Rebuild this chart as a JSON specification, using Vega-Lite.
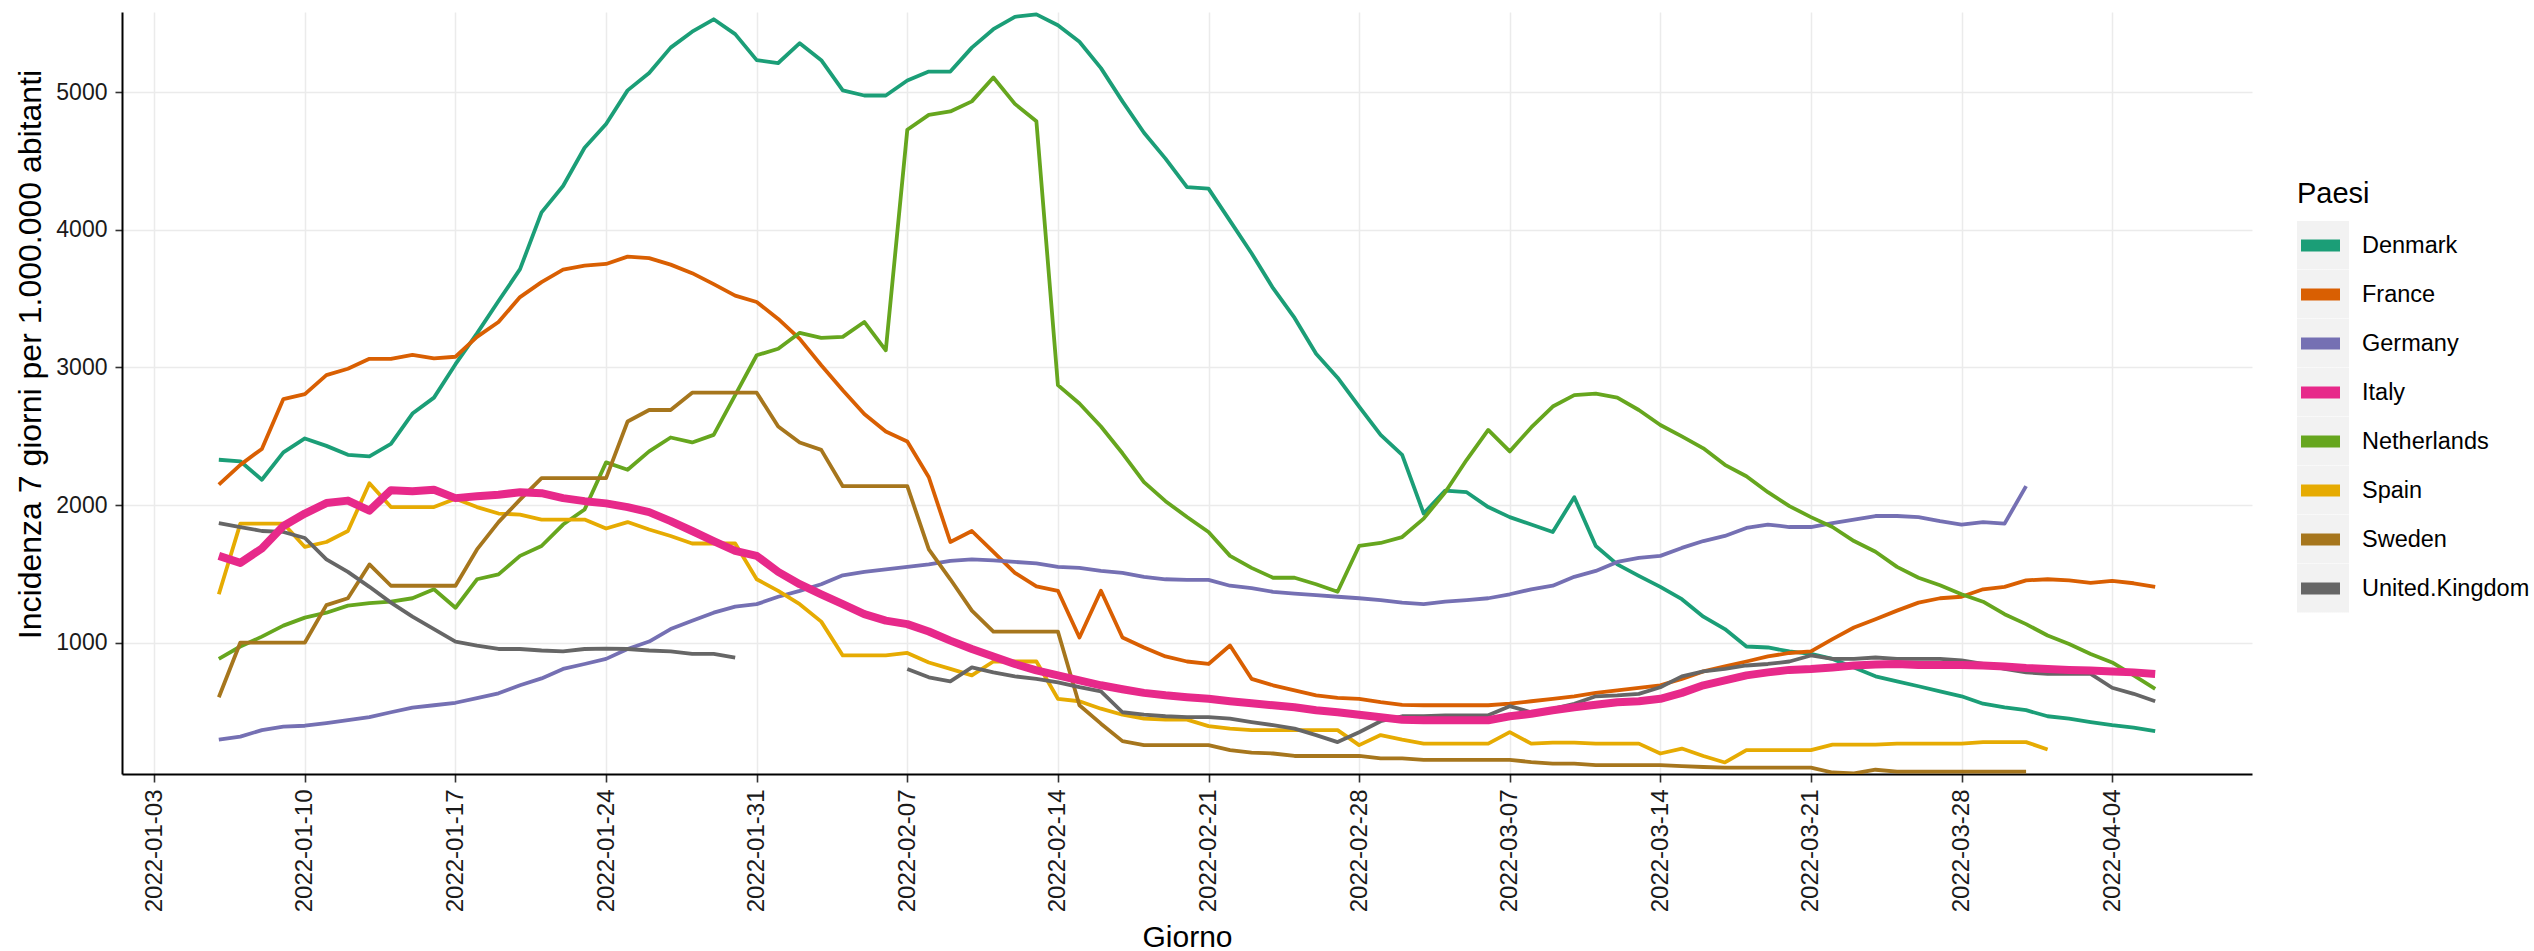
{
"$schema": "https://vega.github.io/schema/vega-lite/v6.json",
"width": 2130, "height": 762,
"autosize": {"type": "none"},
"padding": {"left": 122, "top": 12, "right": 282, "bottom": 177},
"background": "white",
"config": {"view": {"stroke": null}, "font": "Liberation Sans"},
"data": {"values": [
{"d":"2022-01-06","c":"Denmark","v":2329},{"d":"2022-01-07","c":"Denmark","v":2318},{"d":"2022-01-08","c":"Denmark","v":2184},{"d":"2022-01-09","c":"Denmark","v":2383},{"d":"2022-01-10","c":"Denmark","v":2484},{"d":"2022-01-11","c":"Denmark","v":2430},{"d":"2022-01-12","c":"Denmark","v":2365},{"d":"2022-01-13","c":"Denmark","v":2354},{"d":"2022-01-14","c":"Denmark","v":2444},{"d":"2022-01-15","c":"Denmark","v":2665},{"d":"2022-01-16","c":"Denmark","v":2781},{"d":"2022-01-17","c":"Denmark","v":3024},{"d":"2022-01-18","c":"Denmark","v":3248},{"d":"2022-01-19","c":"Denmark","v":3483},{"d":"2022-01-20","c":"Denmark","v":3715},{"d":"2022-01-21","c":"Denmark","v":4128},{"d":"2022-01-22","c":"Denmark","v":4320},{"d":"2022-01-23","c":"Denmark","v":4598},{"d":"2022-01-24","c":"Denmark","v":4770},{"d":"2022-01-25","c":"Denmark","v":5015},{"d":"2022-01-26","c":"Denmark","v":5141},{"d":"2022-01-27","c":"Denmark","v":5326},{"d":"2022-01-28","c":"Denmark","v":5442},{"d":"2022-01-29","c":"Denmark","v":5532},{"d":"2022-01-30","c":"Denmark","v":5424},{"d":"2022-01-31","c":"Denmark","v":5235},
{"d":"2022-02-01","c":"Denmark","v":5214},{"d":"2022-02-02","c":"Denmark","v":5358},{"d":"2022-02-03","c":"Denmark","v":5235},{"d":"2022-02-04","c":"Denmark","v":5015},{"d":"2022-02-05","c":"Denmark","v":4978},{"d":"2022-02-06","c":"Denmark","v":4978},{"d":"2022-02-07","c":"Denmark","v":5087},{"d":"2022-02-08","c":"Denmark","v":5152},{"d":"2022-02-09","c":"Denmark","v":5152},{"d":"2022-02-10","c":"Denmark","v":5326},{"d":"2022-02-11","c":"Denmark","v":5460},{"d":"2022-02-12","c":"Denmark","v":5550},{"d":"2022-02-13","c":"Denmark","v":5568},{"d":"2022-02-14","c":"Denmark","v":5489},{"d":"2022-02-15","c":"Denmark","v":5369},{"d":"2022-02-16","c":"Denmark","v":5177},{"d":"2022-02-17","c":"Denmark","v":4935},{"d":"2022-02-18","c":"Denmark","v":4707},{"d":"2022-02-19","c":"Denmark","v":4519},{"d":"2022-02-20","c":"Denmark","v":4312},{"d":"2022-02-21","c":"Denmark","v":4301},{"d":"2022-02-22","c":"Denmark","v":4066},{"d":"2022-02-23","c":"Denmark","v":3831},{"d":"2022-02-24","c":"Denmark","v":3577},{"d":"2022-02-25","c":"Denmark","v":3360},{"d":"2022-02-26","c":"Denmark","v":3100},{"d":"2022-02-27","c":"Denmark","v":2926},{"d":"2022-02-28","c":"Denmark","v":2716},
{"d":"2022-03-01","c":"Denmark","v":2510},{"d":"2022-03-02","c":"Denmark","v":2365},{"d":"2022-03-03","c":"Denmark","v":1938},{"d":"2022-03-04","c":"Denmark","v":2105},{"d":"2022-03-05","c":"Denmark","v":2093},{"d":"2022-03-06","c":"Denmark","v":1985},{"d":"2022-03-07","c":"Denmark","v":1912},{"d":"2022-03-08","c":"Denmark","v":1858},{"d":"2022-03-09","c":"Denmark","v":1804},{"d":"2022-03-10","c":"Denmark","v":2057},{"d":"2022-03-11","c":"Denmark","v":1702},{"d":"2022-03-12","c":"Denmark","v":1568},{"d":"2022-03-13","c":"Denmark","v":1485},{"d":"2022-03-14","c":"Denmark","v":1405},{"d":"2022-03-15","c":"Denmark","v":1315},{"d":"2022-03-16","c":"Denmark","v":1188},{"d":"2022-03-17","c":"Denmark","v":1098},{"d":"2022-03-18","c":"Denmark","v":971},{"d":"2022-03-19","c":"Denmark","v":964},{"d":"2022-03-20","c":"Denmark","v":935},{"d":"2022-03-21","c":"Denmark","v":917},{"d":"2022-03-22","c":"Denmark","v":881},{"d":"2022-03-23","c":"Denmark","v":819},{"d":"2022-03-24","c":"Denmark","v":754},{"d":"2022-03-25","c":"Denmark","v":718},{"d":"2022-03-26","c":"Denmark","v":682},{"d":"2022-03-27","c":"Denmark","v":645},{"d":"2022-03-28","c":"Denmark","v":609},{"d":"2022-03-29","c":"Denmark","v":555},{"d":"2022-03-30","c":"Denmark","v":529},{"d":"2022-03-31","c":"Denmark","v":508},
{"d":"2022-04-01","c":"Denmark","v":464},{"d":"2022-04-02","c":"Denmark","v":446},{"d":"2022-04-03","c":"Denmark","v":421},{"d":"2022-04-04","c":"Denmark","v":399},{"d":"2022-04-05","c":"Denmark","v":381},{"d":"2022-04-06","c":"Denmark","v":356},

{"d":"2022-01-06","c":"France","v":2148},{"d":"2022-01-07","c":"France","v":2292},{"d":"2022-01-08","c":"France","v":2408},{"d":"2022-01-09","c":"France","v":2770},{"d":"2022-01-10","c":"France","v":2806},{"d":"2022-01-11","c":"France","v":2944},{"d":"2022-01-12","c":"France","v":2991},{"d":"2022-01-13","c":"France","v":3063},{"d":"2022-01-14","c":"France","v":3063},{"d":"2022-01-15","c":"France","v":3092},{"d":"2022-01-16","c":"France","v":3067},{"d":"2022-01-17","c":"France","v":3078},{"d":"2022-01-18","c":"France","v":3223},{"d":"2022-01-19","c":"France","v":3331},{"d":"2022-01-20","c":"France","v":3512},{"d":"2022-01-21","c":"France","v":3621},{"d":"2022-01-22","c":"France","v":3711},{"d":"2022-01-23","c":"France","v":3740},{"d":"2022-01-24","c":"France","v":3753},{"d":"2022-01-25","c":"France","v":3806},{"d":"2022-01-26","c":"France","v":3795},{"d":"2022-01-27","c":"France","v":3748},{"d":"2022-01-28","c":"France","v":3686},{"d":"2022-01-29","c":"France","v":3606},{"d":"2022-01-30","c":"France","v":3523},{"d":"2022-01-31","c":"France","v":3476},
{"d":"2022-02-01","c":"France","v":3353},{"d":"2022-02-02","c":"France","v":3208},{"d":"2022-02-03","c":"France","v":3016},{"d":"2022-02-04","c":"France","v":2835},{"d":"2022-02-05","c":"France","v":2662},{"d":"2022-02-06","c":"France","v":2535},{"d":"2022-02-07","c":"France","v":2462},{"d":"2022-02-08","c":"France","v":2202},{"d":"2022-02-09","c":"France","v":1731},{"d":"2022-02-10","c":"France","v":1811},{"d":"2022-02-11","c":"France","v":1659},{"d":"2022-02-12","c":"France","v":1507},{"d":"2022-02-13","c":"France","v":1409},{"d":"2022-02-14","c":"France","v":1376},{"d":"2022-02-15","c":"France","v":1036},{"d":"2022-02-16","c":"France","v":1376},{"d":"2022-02-17","c":"France","v":1036},{"d":"2022-02-18","c":"France","v":964},{"d":"2022-02-19","c":"France","v":899},{"d":"2022-02-20","c":"France","v":862},{"d":"2022-02-21","c":"France","v":844},{"d":"2022-02-22","c":"France","v":978},{"d":"2022-02-23","c":"France","v":736},{"d":"2022-02-24","c":"France","v":689},{"d":"2022-02-25","c":"France","v":652},{"d":"2022-02-26","c":"France","v":616},{"d":"2022-02-27","c":"France","v":598},{"d":"2022-02-28","c":"France","v":591},
{"d":"2022-03-01","c":"France","v":566},{"d":"2022-03-02","c":"France","v":547},{"d":"2022-03-03","c":"France","v":544},{"d":"2022-03-04","c":"France","v":544},{"d":"2022-03-05","c":"France","v":544},{"d":"2022-03-06","c":"France","v":544},{"d":"2022-03-07","c":"France","v":555},{"d":"2022-03-08","c":"France","v":573},{"d":"2022-03-09","c":"France","v":591},{"d":"2022-03-10","c":"France","v":609},{"d":"2022-03-11","c":"France","v":634},{"d":"2022-03-12","c":"France","v":652},{"d":"2022-03-13","c":"France","v":671},{"d":"2022-03-14","c":"France","v":689},{"d":"2022-03-15","c":"France","v":736},{"d":"2022-03-16","c":"France","v":790},{"d":"2022-03-17","c":"France","v":826},{"d":"2022-03-18","c":"France","v":862},{"d":"2022-03-19","c":"France","v":899},{"d":"2022-03-20","c":"France","v":924},{"d":"2022-03-21","c":"France","v":935},{"d":"2022-03-22","c":"France","v":1025},{"d":"2022-03-23","c":"France","v":1109},{"d":"2022-03-24","c":"France","v":1170},{"d":"2022-03-25","c":"France","v":1232},{"d":"2022-03-26","c":"France","v":1290},{"d":"2022-03-27","c":"France","v":1322},{"d":"2022-03-28","c":"France","v":1333},{"d":"2022-03-29","c":"France","v":1387},{"d":"2022-03-30","c":"France","v":1405},{"d":"2022-03-31","c":"France","v":1452},
{"d":"2022-04-01","c":"France","v":1460},{"d":"2022-04-02","c":"France","v":1452},{"d":"2022-04-03","c":"France","v":1434},{"d":"2022-04-04","c":"France","v":1449},{"d":"2022-04-05","c":"France","v":1431},{"d":"2022-04-06","c":"France","v":1405},

{"d":"2022-01-06","c":"Germany","v":294},{"d":"2022-01-07","c":"Germany","v":316},{"d":"2022-01-08","c":"Germany","v":363},{"d":"2022-01-09","c":"Germany","v":388},{"d":"2022-01-10","c":"Germany","v":395},{"d":"2022-01-11","c":"Germany","v":414},{"d":"2022-01-12","c":"Germany","v":435},{"d":"2022-01-13","c":"Germany","v":457},{"d":"2022-01-14","c":"Germany","v":493},{"d":"2022-01-15","c":"Germany","v":526},{"d":"2022-01-16","c":"Germany","v":544},{"d":"2022-01-17","c":"Germany","v":562},{"d":"2022-01-18","c":"Germany","v":595},{"d":"2022-01-19","c":"Germany","v":631},{"d":"2022-01-20","c":"Germany","v":689},{"d":"2022-01-21","c":"Germany","v":739},{"d":"2022-01-22","c":"Germany","v":808},{"d":"2022-01-23","c":"Germany","v":844},{"d":"2022-01-24","c":"Germany","v":881},{"d":"2022-01-25","c":"Germany","v":953},{"d":"2022-01-26","c":"Germany","v":1007},{"d":"2022-01-27","c":"Germany","v":1098},{"d":"2022-01-28","c":"Germany","v":1159},{"d":"2022-01-29","c":"Germany","v":1217},{"d":"2022-01-30","c":"Germany","v":1261},{"d":"2022-01-31","c":"Germany","v":1279},
{"d":"2022-02-01","c":"Germany","v":1333},{"d":"2022-02-02","c":"Germany","v":1376},{"d":"2022-02-03","c":"Germany","v":1424},{"d":"2022-02-04","c":"Germany","v":1489},{"d":"2022-02-05","c":"Germany","v":1514},{"d":"2022-02-06","c":"Germany","v":1532},{"d":"2022-02-07","c":"Germany","v":1550},{"d":"2022-02-08","c":"Germany","v":1568},{"d":"2022-02-09","c":"Germany","v":1594},{"d":"2022-02-10","c":"Germany","v":1605},{"d":"2022-02-11","c":"Germany","v":1597},{"d":"2022-02-12","c":"Germany","v":1586},{"d":"2022-02-13","c":"Germany","v":1576},{"d":"2022-02-14","c":"Germany","v":1550},{"d":"2022-02-15","c":"Germany","v":1543},{"d":"2022-02-16","c":"Germany","v":1521},{"d":"2022-02-17","c":"Germany","v":1507},{"d":"2022-02-18","c":"Germany","v":1478},{"d":"2022-02-19","c":"Germany","v":1460},{"d":"2022-02-20","c":"Germany","v":1456},{"d":"2022-02-21","c":"Germany","v":1456},{"d":"2022-02-22","c":"Germany","v":1413},{"d":"2022-02-23","c":"Germany","v":1395},{"d":"2022-02-24","c":"Germany","v":1369},{"d":"2022-02-25","c":"Germany","v":1355},{"d":"2022-02-26","c":"Germany","v":1344},{"d":"2022-02-27","c":"Germany","v":1333},{"d":"2022-02-28","c":"Germany","v":1322},
{"d":"2022-03-01","c":"Germany","v":1308},{"d":"2022-03-02","c":"Germany","v":1290},{"d":"2022-03-03","c":"Germany","v":1279},{"d":"2022-03-04","c":"Germany","v":1297},{"d":"2022-03-05","c":"Germany","v":1308},{"d":"2022-03-06","c":"Germany","v":1322},{"d":"2022-03-07","c":"Germany","v":1351},{"d":"2022-03-08","c":"Germany","v":1387},{"d":"2022-03-09","c":"Germany","v":1413},{"d":"2022-03-10","c":"Germany","v":1478},{"d":"2022-03-11","c":"Germany","v":1521},{"d":"2022-03-12","c":"Germany","v":1586},{"d":"2022-03-13","c":"Germany","v":1615},{"d":"2022-03-14","c":"Germany","v":1630},{"d":"2022-03-15","c":"Germany","v":1688},{"d":"2022-03-16","c":"Germany","v":1738},{"d":"2022-03-17","c":"Germany","v":1775},{"d":"2022-03-18","c":"Germany","v":1833},{"d":"2022-03-19","c":"Germany","v":1858},{"d":"2022-03-20","c":"Germany","v":1840},{"d":"2022-03-21","c":"Germany","v":1840},{"d":"2022-03-22","c":"Germany","v":1869},{"d":"2022-03-23","c":"Germany","v":1894},{"d":"2022-03-24","c":"Germany","v":1920},{"d":"2022-03-25","c":"Germany","v":1920},{"d":"2022-03-26","c":"Germany","v":1912},{"d":"2022-03-27","c":"Germany","v":1883},{"d":"2022-03-28","c":"Germany","v":1858},{"d":"2022-03-29","c":"Germany","v":1876},{"d":"2022-03-30","c":"Germany","v":1865},{"d":"2022-03-31","c":"Germany","v":2137},

{"d":"2022-01-06","c":"Netherlands","v":881},{"d":"2022-01-07","c":"Netherlands","v":971},{"d":"2022-01-08","c":"Netherlands","v":1043},{"d":"2022-01-09","c":"Netherlands","v":1123},{"d":"2022-01-10","c":"Netherlands","v":1181},{"d":"2022-01-11","c":"Netherlands","v":1217},{"d":"2022-01-12","c":"Netherlands","v":1268},{"d":"2022-01-13","c":"Netherlands","v":1286},{"d":"2022-01-14","c":"Netherlands","v":1297},{"d":"2022-01-15","c":"Netherlands","v":1322},{"d":"2022-01-16","c":"Netherlands","v":1387},{"d":"2022-01-17","c":"Netherlands","v":1253},{"d":"2022-01-18","c":"Netherlands","v":1460},{"d":"2022-01-19","c":"Netherlands","v":1496},{"d":"2022-01-20","c":"Netherlands","v":1630},{"d":"2022-01-21","c":"Netherlands","v":1702},{"d":"2022-01-22","c":"Netherlands","v":1858},{"d":"2022-01-23","c":"Netherlands","v":1967},{"d":"2022-01-24","c":"Netherlands","v":2310},{"d":"2022-01-25","c":"Netherlands","v":2256},{"d":"2022-01-26","c":"Netherlands","v":2390},{"d":"2022-01-27","c":"Netherlands","v":2491},{"d":"2022-01-28","c":"Netherlands","v":2455},{"d":"2022-01-29","c":"Netherlands","v":2510},{"d":"2022-01-30","c":"Netherlands","v":2799},{"d":"2022-01-31","c":"Netherlands","v":3089},
{"d":"2022-02-01","c":"Netherlands","v":3136},{"d":"2022-02-02","c":"Netherlands","v":3252},{"d":"2022-02-03","c":"Netherlands","v":3215},{"d":"2022-02-04","c":"Netherlands","v":3223},{"d":"2022-02-05","c":"Netherlands","v":3331},{"d":"2022-02-06","c":"Netherlands","v":3125},{"d":"2022-02-07","c":"Netherlands","v":4729},{"d":"2022-02-08","c":"Netherlands","v":4837},{"d":"2022-02-09","c":"Netherlands","v":4862},{"d":"2022-02-10","c":"Netherlands","v":4935},{"d":"2022-02-11","c":"Netherlands","v":5109},{"d":"2022-02-12","c":"Netherlands","v":4917},{"d":"2022-02-13","c":"Netherlands","v":4790},{"d":"2022-02-14","c":"Netherlands","v":2872},{"d":"2022-02-15","c":"Netherlands","v":2738},{"d":"2022-02-16","c":"Netherlands","v":2571},{"d":"2022-02-17","c":"Netherlands","v":2376},{"d":"2022-02-18","c":"Netherlands","v":2166},{"d":"2022-02-19","c":"Netherlands","v":2028},{"d":"2022-02-20","c":"Netherlands","v":1913},{"d":"2022-02-21","c":"Netherlands","v":1804},{"d":"2022-02-22","c":"Netherlands","v":1630},{"d":"2022-02-23","c":"Netherlands","v":1543},{"d":"2022-02-24","c":"Netherlands","v":1471},{"d":"2022-02-25","c":"Netherlands","v":1471},{"d":"2022-02-26","c":"Netherlands","v":1424},{"d":"2022-02-27","c":"Netherlands","v":1369},{"d":"2022-02-28","c":"Netherlands","v":1702},
{"d":"2022-03-01","c":"Netherlands","v":1724},{"d":"2022-03-02","c":"Netherlands","v":1767},{"d":"2022-03-03","c":"Netherlands","v":1901},{"d":"2022-03-04","c":"Netherlands","v":2093},{"d":"2022-03-05","c":"Netherlands","v":2329},{"d":"2022-03-06","c":"Netherlands","v":2546},{"d":"2022-03-07","c":"Netherlands","v":2390},{"d":"2022-03-08","c":"Netherlands","v":2564},{"d":"2022-03-09","c":"Netherlands","v":2716},{"d":"2022-03-10","c":"Netherlands","v":2799},{"d":"2022-03-11","c":"Netherlands","v":2810},{"d":"2022-03-12","c":"Netherlands","v":2781},{"d":"2022-03-13","c":"Netherlands","v":2691},{"d":"2022-03-14","c":"Netherlands","v":2582},{"d":"2022-03-15","c":"Netherlands","v":2499},{"d":"2022-03-16","c":"Netherlands","v":2412},{"d":"2022-03-17","c":"Netherlands","v":2292},{"d":"2022-03-18","c":"Netherlands","v":2209},{"d":"2022-03-19","c":"Netherlands","v":2093},{"d":"2022-03-20","c":"Netherlands","v":1992},{"d":"2022-03-21","c":"Netherlands","v":1912},{"d":"2022-03-22","c":"Netherlands","v":1840},{"d":"2022-03-23","c":"Netherlands","v":1738},{"d":"2022-03-24","c":"Netherlands","v":1660},{"d":"2022-03-25","c":"Netherlands","v":1550},{"d":"2022-03-26","c":"Netherlands","v":1471},{"d":"2022-03-27","c":"Netherlands","v":1416},{"d":"2022-03-28","c":"Netherlands","v":1351},{"d":"2022-03-29","c":"Netherlands","v":1297},{"d":"2022-03-30","c":"Netherlands","v":1206},{"d":"2022-03-31","c":"Netherlands","v":1134},
{"d":"2022-04-01","c":"Netherlands","v":1051},{"d":"2022-04-02","c":"Netherlands","v":989},{"d":"2022-04-03","c":"Netherlands","v":917},{"d":"2022-04-04","c":"Netherlands","v":855},{"d":"2022-04-05","c":"Netherlands","v":761},{"d":"2022-04-06","c":"Netherlands","v":663},

{"d":"2022-01-06","c":"Spain","v":1351},{"d":"2022-01-07","c":"Spain","v":1865},{"d":"2022-01-08","c":"Spain","v":1865},{"d":"2022-01-09","c":"Spain","v":1865},{"d":"2022-01-10","c":"Spain","v":1695},{"d":"2022-01-11","c":"Spain","v":1731},{"d":"2022-01-12","c":"Spain","v":1811},{"d":"2022-01-13","c":"Spain","v":2158},{"d":"2022-01-14","c":"Spain","v":1985},{"d":"2022-01-15","c":"Spain","v":1985},{"d":"2022-01-16","c":"Spain","v":1985},{"d":"2022-01-17","c":"Spain","v":2046},{"d":"2022-01-18","c":"Spain","v":1985},{"d":"2022-01-19","c":"Spain","v":1938},{"d":"2022-01-20","c":"Spain","v":1930},{"d":"2022-01-21","c":"Spain","v":1894},{"d":"2022-01-22","c":"Spain","v":1894},{"d":"2022-01-23","c":"Spain","v":1894},{"d":"2022-01-24","c":"Spain","v":1829},{"d":"2022-01-25","c":"Spain","v":1876},{"d":"2022-01-26","c":"Spain","v":1822},{"d":"2022-01-27","c":"Spain","v":1775},{"d":"2022-01-28","c":"Spain","v":1720},{"d":"2022-01-29","c":"Spain","v":1720},{"d":"2022-01-30","c":"Spain","v":1720},{"d":"2022-01-31","c":"Spain","v":1460},
{"d":"2022-02-01","c":"Spain","v":1376},{"d":"2022-02-02","c":"Spain","v":1279},{"d":"2022-02-03","c":"Spain","v":1152},{"d":"2022-02-04","c":"Spain","v":906},{"d":"2022-02-05","c":"Spain","v":906},{"d":"2022-02-06","c":"Spain","v":906},{"d":"2022-02-07","c":"Spain","v":924},{"d":"2022-02-08","c":"Spain","v":855},{"d":"2022-02-09","c":"Spain","v":808},{"d":"2022-02-10","c":"Spain","v":761},{"d":"2022-02-11","c":"Spain","v":862},{"d":"2022-02-12","c":"Spain","v":862},{"d":"2022-02-13","c":"Spain","v":862},{"d":"2022-02-14","c":"Spain","v":591},{"d":"2022-02-15","c":"Spain","v":573},{"d":"2022-02-16","c":"Spain","v":519},{"d":"2022-02-17","c":"Spain","v":475},{"d":"2022-02-18","c":"Spain","v":446},{"d":"2022-02-19","c":"Spain","v":439},{"d":"2022-02-20","c":"Spain","v":439},{"d":"2022-02-21","c":"Spain","v":392},{"d":"2022-02-22","c":"Spain","v":374},{"d":"2022-02-23","c":"Spain","v":363},{"d":"2022-02-24","c":"Spain","v":363},{"d":"2022-02-25","c":"Spain","v":363},{"d":"2022-02-26","c":"Spain","v":363},{"d":"2022-02-27","c":"Spain","v":363},{"d":"2022-02-28","c":"Spain","v":254},
{"d":"2022-03-01","c":"Spain","v":327},{"d":"2022-03-02","c":"Spain","v":294},{"d":"2022-03-03","c":"Spain","v":265},{"d":"2022-03-04","c":"Spain","v":265},{"d":"2022-03-05","c":"Spain","v":265},{"d":"2022-03-06","c":"Spain","v":265},{"d":"2022-03-07","c":"Spain","v":348},{"d":"2022-03-08","c":"Spain","v":265},{"d":"2022-03-09","c":"Spain","v":272},{"d":"2022-03-10","c":"Spain","v":272},{"d":"2022-03-11","c":"Spain","v":265},{"d":"2022-03-12","c":"Spain","v":265},{"d":"2022-03-13","c":"Spain","v":265},{"d":"2022-03-14","c":"Spain","v":193},{"d":"2022-03-15","c":"Spain","v":229},{"d":"2022-03-16","c":"Spain","v":175},{"d":"2022-03-17","c":"Spain","v":128},{"d":"2022-03-18","c":"Spain","v":218},{"d":"2022-03-19","c":"Spain","v":218},{"d":"2022-03-20","c":"Spain","v":218},{"d":"2022-03-21","c":"Spain","v":218},{"d":"2022-03-22","c":"Spain","v":258},{"d":"2022-03-23","c":"Spain","v":258},{"d":"2022-03-24","c":"Spain","v":258},{"d":"2022-03-25","c":"Spain","v":265},{"d":"2022-03-26","c":"Spain","v":265},{"d":"2022-03-27","c":"Spain","v":265},{"d":"2022-03-28","c":"Spain","v":265},{"d":"2022-03-29","c":"Spain","v":276},{"d":"2022-03-30","c":"Spain","v":276},{"d":"2022-03-31","c":"Spain","v":276},{"d":"2022-04-01","c":"Spain","v":222},

{"d":"2022-01-06","c":"Sweden","v":602},{"d":"2022-01-07","c":"Sweden","v":1000},{"d":"2022-01-08","c":"Sweden","v":1000},{"d":"2022-01-09","c":"Sweden","v":1000},{"d":"2022-01-10","c":"Sweden","v":1000},{"d":"2022-01-11","c":"Sweden","v":1272},{"d":"2022-01-12","c":"Sweden","v":1322},{"d":"2022-01-13","c":"Sweden","v":1568},{"d":"2022-01-14","c":"Sweden","v":1413},{"d":"2022-01-15","c":"Sweden","v":1413},{"d":"2022-01-16","c":"Sweden","v":1413},{"d":"2022-01-17","c":"Sweden","v":1413},{"d":"2022-01-18","c":"Sweden","v":1677},{"d":"2022-01-19","c":"Sweden","v":1876},{"d":"2022-01-20","c":"Sweden","v":2039},{"d":"2022-01-21","c":"Sweden","v":2195},{"d":"2022-01-22","c":"Sweden","v":2195},{"d":"2022-01-23","c":"Sweden","v":2195},{"d":"2022-01-24","c":"Sweden","v":2195},{"d":"2022-01-25","c":"Sweden","v":2607},{"d":"2022-01-26","c":"Sweden","v":2691},{"d":"2022-01-27","c":"Sweden","v":2691},{"d":"2022-01-28","c":"Sweden","v":2817},{"d":"2022-01-29","c":"Sweden","v":2817},{"d":"2022-01-30","c":"Sweden","v":2817},{"d":"2022-01-31","c":"Sweden","v":2817},
{"d":"2022-02-01","c":"Sweden","v":2571},{"d":"2022-02-02","c":"Sweden","v":2455},{"d":"2022-02-03","c":"Sweden","v":2401},{"d":"2022-02-04","c":"Sweden","v":2137},{"d":"2022-02-05","c":"Sweden","v":2137},{"d":"2022-02-06","c":"Sweden","v":2137},{"d":"2022-02-07","c":"Sweden","v":2137},{"d":"2022-02-08","c":"Sweden","v":1677},{"d":"2022-02-09","c":"Sweden","v":1460},{"d":"2022-02-10","c":"Sweden","v":1232},{"d":"2022-02-11","c":"Sweden","v":1080},{"d":"2022-02-12","c":"Sweden","v":1080},{"d":"2022-02-13","c":"Sweden","v":1080},{"d":"2022-02-14","c":"Sweden","v":1080},{"d":"2022-02-15","c":"Sweden","v":544},{"d":"2022-02-16","c":"Sweden","v":410},{"d":"2022-02-17","c":"Sweden","v":283},{"d":"2022-02-18","c":"Sweden","v":254},{"d":"2022-02-19","c":"Sweden","v":254},{"d":"2022-02-20","c":"Sweden","v":254},{"d":"2022-02-21","c":"Sweden","v":254},{"d":"2022-02-22","c":"Sweden","v":218},{"d":"2022-02-23","c":"Sweden","v":200},{"d":"2022-02-24","c":"Sweden","v":193},{"d":"2022-02-25","c":"Sweden","v":175},{"d":"2022-02-26","c":"Sweden","v":175},{"d":"2022-02-27","c":"Sweden","v":175},{"d":"2022-02-28","c":"Sweden","v":175},
{"d":"2022-03-01","c":"Sweden","v":157},{"d":"2022-03-02","c":"Sweden","v":157},{"d":"2022-03-03","c":"Sweden","v":146},{"d":"2022-03-04","c":"Sweden","v":146},{"d":"2022-03-05","c":"Sweden","v":146},{"d":"2022-03-06","c":"Sweden","v":146},{"d":"2022-03-07","c":"Sweden","v":146},{"d":"2022-03-08","c":"Sweden","v":131},{"d":"2022-03-09","c":"Sweden","v":120},{"d":"2022-03-10","c":"Sweden","v":120},{"d":"2022-03-11","c":"Sweden","v":109},{"d":"2022-03-12","c":"Sweden","v":109},{"d":"2022-03-13","c":"Sweden","v":109},{"d":"2022-03-14","c":"Sweden","v":109},{"d":"2022-03-15","c":"Sweden","v":102},{"d":"2022-03-16","c":"Sweden","v":95},{"d":"2022-03-17","c":"Sweden","v":91},{"d":"2022-03-18","c":"Sweden","v":91},{"d":"2022-03-19","c":"Sweden","v":91},{"d":"2022-03-20","c":"Sweden","v":91},{"d":"2022-03-21","c":"Sweden","v":91},{"d":"2022-03-22","c":"Sweden","v":55},{"d":"2022-03-23","c":"Sweden","v":48},{"d":"2022-03-24","c":"Sweden","v":75},{"d":"2022-03-25","c":"Sweden","v":62},{"d":"2022-03-26","c":"Sweden","v":62},{"d":"2022-03-27","c":"Sweden","v":62},{"d":"2022-03-28","c":"Sweden","v":62},{"d":"2022-03-29","c":"Sweden","v":62},{"d":"2022-03-30","c":"Sweden","v":62},{"d":"2022-03-31","c":"Sweden","v":62},

{"d":"2022-01-06","c":"United.Kingdom","v":1869},{"d":"2022-01-07","c":"United.Kingdom","v":1840},{"d":"2022-01-08","c":"United.Kingdom","v":1811},{"d":"2022-01-09","c":"United.Kingdom","v":1804},{"d":"2022-01-10","c":"United.Kingdom","v":1760},{"d":"2022-01-11","c":"United.Kingdom","v":1605},{"d":"2022-01-12","c":"United.Kingdom","v":1514},{"d":"2022-01-13","c":"United.Kingdom","v":1405},{"d":"2022-01-14","c":"United.Kingdom","v":1290},{"d":"2022-01-15","c":"United.Kingdom","v":1188},{"d":"2022-01-16","c":"United.Kingdom","v":1098},{"d":"2022-01-17","c":"United.Kingdom","v":1007},{"d":"2022-01-18","c":"United.Kingdom","v":978},{"d":"2022-01-19","c":"United.Kingdom","v":953},{"d":"2022-01-20","c":"United.Kingdom","v":953},{"d":"2022-01-21","c":"United.Kingdom","v":942},{"d":"2022-01-22","c":"United.Kingdom","v":935},{"d":"2022-01-23","c":"United.Kingdom","v":953},{"d":"2022-01-24","c":"United.Kingdom","v":955},{"d":"2022-01-25","c":"United.Kingdom","v":953},{"d":"2022-01-26","c":"United.Kingdom","v":942},{"d":"2022-01-27","c":"United.Kingdom","v":935},{"d":"2022-01-28","c":"United.Kingdom","v":917},{"d":"2022-01-29","c":"United.Kingdom","v":917},{"d":"2022-01-30","c":"United.Kingdom","v":891},
{"d":"2022-02-07","c":"United.Kingdom","v":808,"s":2},{"d":"2022-02-08","c":"United.Kingdom","v":747,"s":2},{"d":"2022-02-09","c":"United.Kingdom","v":718,"s":2},{"d":"2022-02-10","c":"United.Kingdom","v":819,"s":2},{"d":"2022-02-11","c":"United.Kingdom","v":783,"s":2},{"d":"2022-02-12","c":"United.Kingdom","v":754,"s":2},{"d":"2022-02-13","c":"United.Kingdom","v":736,"s":2},{"d":"2022-02-14","c":"United.Kingdom","v":711,"s":2},{"d":"2022-02-15","c":"United.Kingdom","v":675,"s":2},{"d":"2022-02-16","c":"United.Kingdom","v":645,"s":2},{"d":"2022-02-17","c":"United.Kingdom","v":493,"s":2},{"d":"2022-02-18","c":"United.Kingdom","v":475,"s":2},{"d":"2022-02-19","c":"United.Kingdom","v":464,"s":2},{"d":"2022-02-20","c":"United.Kingdom","v":457,"s":2},{"d":"2022-02-21","c":"United.Kingdom","v":457,"s":2},{"d":"2022-02-22","c":"United.Kingdom","v":446,"s":2},{"d":"2022-02-23","c":"United.Kingdom","v":421,"s":2},{"d":"2022-02-24","c":"United.Kingdom","v":399,"s":2},{"d":"2022-02-25","c":"United.Kingdom","v":374,"s":2},{"d":"2022-02-26","c":"United.Kingdom","v":327,"s":2},{"d":"2022-02-27","c":"United.Kingdom","v":276,"s":2},{"d":"2022-02-28","c":"United.Kingdom","v":348,"s":2},
{"d":"2022-03-01","c":"United.Kingdom","v":428,"s":2},{"d":"2022-03-02","c":"United.Kingdom","v":464,"s":2},{"d":"2022-03-03","c":"United.Kingdom","v":464,"s":2},{"d":"2022-03-04","c":"United.Kingdom","v":471,"s":2},{"d":"2022-03-05","c":"United.Kingdom","v":471,"s":2},{"d":"2022-03-06","c":"United.Kingdom","v":471,"s":2},{"d":"2022-03-07","c":"United.Kingdom","v":537,"s":2},{"d":"2022-03-08","c":"United.Kingdom","v":493,"s":2},{"d":"2022-03-09","c":"United.Kingdom","v":518,"s":2},{"d":"2022-03-10","c":"United.Kingdom","v":555,"s":2},{"d":"2022-03-11","c":"United.Kingdom","v":609,"s":2},{"d":"2022-03-12","c":"United.Kingdom","v":616,"s":2},{"d":"2022-03-13","c":"United.Kingdom","v":627,"s":2},{"d":"2022-03-14","c":"United.Kingdom","v":675,"s":2},{"d":"2022-03-15","c":"United.Kingdom","v":754,"s":2},{"d":"2022-03-16","c":"United.Kingdom","v":790,"s":2},{"d":"2022-03-17","c":"United.Kingdom","v":808,"s":2},{"d":"2022-03-18","c":"United.Kingdom","v":833,"s":2},{"d":"2022-03-19","c":"United.Kingdom","v":844,"s":2},{"d":"2022-03-20","c":"United.Kingdom","v":862,"s":2},{"d":"2022-03-21","c":"United.Kingdom","v":906,"s":2},{"d":"2022-03-22","c":"United.Kingdom","v":881,"s":2},{"d":"2022-03-23","c":"United.Kingdom","v":881,"s":2},{"d":"2022-03-24","c":"United.Kingdom","v":891,"s":2},{"d":"2022-03-25","c":"United.Kingdom","v":881,"s":2},{"d":"2022-03-26","c":"United.Kingdom","v":881,"s":2},{"d":"2022-03-27","c":"United.Kingdom","v":881,"s":2},{"d":"2022-03-28","c":"United.Kingdom","v":870,"s":2},{"d":"2022-03-29","c":"United.Kingdom","v":844,"s":2},{"d":"2022-03-30","c":"United.Kingdom","v":808,"s":2},{"d":"2022-03-31","c":"United.Kingdom","v":783,"s":2},
{"d":"2022-04-01","c":"United.Kingdom","v":772,"s":2},{"d":"2022-04-02","c":"United.Kingdom","v":772,"s":2},{"d":"2022-04-03","c":"United.Kingdom","v":772,"s":2},{"d":"2022-04-04","c":"United.Kingdom","v":671,"s":2},{"d":"2022-04-05","c":"United.Kingdom","v":627,"s":2},{"d":"2022-04-06","c":"United.Kingdom","v":573,"s":2},

{"d":"2022-01-06","c":"Italy","v":1630},{"d":"2022-01-07","c":"Italy","v":1579},{"d":"2022-01-08","c":"Italy","v":1684},{"d":"2022-01-09","c":"Italy","v":1847},{"d":"2022-01-10","c":"Italy","v":1938},{"d":"2022-01-11","c":"Italy","v":2014},{"d":"2022-01-12","c":"Italy","v":2032},{"d":"2022-01-13","c":"Italy","v":1959},{"d":"2022-01-14","c":"Italy","v":2108},{"d":"2022-01-15","c":"Italy","v":2100},{"d":"2022-01-16","c":"Italy","v":2111},{"d":"2022-01-17","c":"Italy","v":2050},{"d":"2022-01-18","c":"Italy","v":2064},{"d":"2022-01-19","c":"Italy","v":2075},{"d":"2022-01-20","c":"Italy","v":2093},{"d":"2022-01-21","c":"Italy","v":2086},{"d":"2022-01-22","c":"Italy","v":2050},{"d":"2022-01-23","c":"Italy","v":2028},{"d":"2022-01-24","c":"Italy","v":2012},{"d":"2022-01-25","c":"Italy","v":1985},{"d":"2022-01-26","c":"Italy","v":1948},{"d":"2022-01-27","c":"Italy","v":1883},{"d":"2022-01-28","c":"Italy","v":1811},{"d":"2022-01-29","c":"Italy","v":1738},{"d":"2022-01-30","c":"Italy","v":1666},{"d":"2022-01-31","c":"Italy","v":1630},
{"d":"2022-02-01","c":"Italy","v":1514},{"d":"2022-02-02","c":"Italy","v":1424},{"d":"2022-02-03","c":"Italy","v":1351},{"d":"2022-02-04","c":"Italy","v":1279},{"d":"2022-02-05","c":"Italy","v":1206},{"d":"2022-02-06","c":"Italy","v":1159},{"d":"2022-02-07","c":"Italy","v":1134},{"d":"2022-02-08","c":"Italy","v":1080},{"d":"2022-02-09","c":"Italy","v":1014},{"d":"2022-02-10","c":"Italy","v":953},{"d":"2022-02-11","c":"Italy","v":899},{"d":"2022-02-12","c":"Italy","v":844},{"d":"2022-02-13","c":"Italy","v":797},{"d":"2022-02-14","c":"Italy","v":761},{"d":"2022-02-15","c":"Italy","v":725},{"d":"2022-02-16","c":"Italy","v":689},{"d":"2022-02-17","c":"Italy","v":660},{"d":"2022-02-18","c":"Italy","v":634},{"d":"2022-02-19","c":"Italy","v":616},{"d":"2022-02-20","c":"Italy","v":602},{"d":"2022-02-21","c":"Italy","v":591},{"d":"2022-02-22","c":"Italy","v":573},{"d":"2022-02-23","c":"Italy","v":558},{"d":"2022-02-24","c":"Italy","v":544},{"d":"2022-02-25","c":"Italy","v":529},{"d":"2022-02-26","c":"Italy","v":508},{"d":"2022-02-27","c":"Italy","v":493},{"d":"2022-02-28","c":"Italy","v":475},
{"d":"2022-03-01","c":"Italy","v":457},{"d":"2022-03-02","c":"Italy","v":439},{"d":"2022-03-03","c":"Italy","v":435},{"d":"2022-03-04","c":"Italy","v":435},{"d":"2022-03-05","c":"Italy","v":435},{"d":"2022-03-06","c":"Italy","v":435},{"d":"2022-03-07","c":"Italy","v":464},{"d":"2022-03-08","c":"Italy","v":482},{"d":"2022-03-09","c":"Italy","v":508},{"d":"2022-03-10","c":"Italy","v":529},{"d":"2022-03-11","c":"Italy","v":547},{"d":"2022-03-12","c":"Italy","v":566},{"d":"2022-03-13","c":"Italy","v":573},{"d":"2022-03-14","c":"Italy","v":591},{"d":"2022-03-15","c":"Italy","v":634},{"d":"2022-03-16","c":"Italy","v":689},{"d":"2022-03-17","c":"Italy","v":725},{"d":"2022-03-18","c":"Italy","v":761},{"d":"2022-03-19","c":"Italy","v":783},{"d":"2022-03-20","c":"Italy","v":801},{"d":"2022-03-21","c":"Italy","v":808},{"d":"2022-03-22","c":"Italy","v":819},{"d":"2022-03-23","c":"Italy","v":833},{"d":"2022-03-24","c":"Italy","v":840},{"d":"2022-03-25","c":"Italy","v":844},{"d":"2022-03-26","c":"Italy","v":837},{"d":"2022-03-27","c":"Italy","v":837},{"d":"2022-03-28","c":"Italy","v":837},{"d":"2022-03-29","c":"Italy","v":833},{"d":"2022-03-30","c":"Italy","v":826},{"d":"2022-03-31","c":"Italy","v":815},
{"d":"2022-04-01","c":"Italy","v":808},{"d":"2022-04-02","c":"Italy","v":801},{"d":"2022-04-03","c":"Italy","v":797},{"d":"2022-04-04","c":"Italy","v":790},{"d":"2022-04-05","c":"Italy","v":783},{"d":"2022-04-06","c":"Italy","v":772}
]},
"encoding": {
  "x": {"field": "d", "type": "temporal", "title": "Giorno",
    "scale": {"type": "utc", "domain": [{"year": 2022, "month": 1, "date": 1, "hours": 12, "utc": true}, {"year": 2022, "month": 4, "date": 10, "hours": 12, "utc": true}]},
    "axis": {
      "values": [
        {"year": 2022, "month": 1, "date": 3, "utc": true}, {"year": 2022, "month": 1, "date": 10, "utc": true},
        {"year": 2022, "month": 1, "date": 17, "utc": true}, {"year": 2022, "month": 1, "date": 24, "utc": true},
        {"year": 2022, "month": 1, "date": 31, "utc": true}, {"year": 2022, "month": 2, "date": 7, "utc": true},
        {"year": 2022, "month": 2, "date": 14, "utc": true}, {"year": 2022, "month": 2, "date": 21, "utc": true},
        {"year": 2022, "month": 2, "date": 28, "utc": true}, {"year": 2022, "month": 3, "date": 7, "utc": true},
        {"year": 2022, "month": 3, "date": 14, "utc": true}, {"year": 2022, "month": 3, "date": 21, "utc": true},
        {"year": 2022, "month": 3, "date": 28, "utc": true}, {"year": 2022, "month": 4, "date": 4, "utc": true}
      ],
      "format": "%Y-%m-%d",
      "labelAngle": -90, "labelFontSize": 24, "labelColor": "#1a1a1a", "labelPadding": 7,
      "labelOverlap": false, "labelFlush": false,
      "tickSize": 8, "tickColor": "#333333", "tickWidth": 1.6,
      "domainColor": "#000000", "domainWidth": 2,
      "grid": true, "gridColor": "#EBEBEB", "gridWidth": 1.5,
      "titleFontSize": 30, "titleFontWeight": "normal", "titleColor": "#000000",
      "titleBaseline": "alphabetic", "titleY": 172
    }},
  "y": {"field": "v", "type": "quantitative", "title": "Incidenza 7 giorni per 1.000.000 abitanti",
    "scale": {"domain": [44, 5585], "nice": false, "zero": false},
    "axis": {
      "values": [1000, 2000, 3000, 4000, 5000], "format": "d",
      "labelFontSize": 23, "labelColor": "#1a1a1a", "labelPadding": 8,
      "tickSize": 7, "tickColor": "#333333", "tickWidth": 1.6,
      "domainColor": "#000000", "domainWidth": 2,
      "grid": true, "gridColor": "#EBEBEB", "gridWidth": 1.5,
      "titleFontSize": 32, "titleFontWeight": "normal", "titleColor": "#000000",
      "titleBaseline": "alphabetic", "titleX": -82, "titleY": 342
    }},
  "color": {"field": "c", "type": "nominal", "title": "Paesi",
    "scale": {"domain": ["Denmark", "France", "Germany", "Italy", "Netherlands", "Spain", "Sweden", "United.Kingdom"],
              "range": ["#1B9E77", "#D95F02", "#7570B3", "#E7298A", "#66A61E", "#E6AB02", "#A6761D", "#666666"]},
    "legend": {
      "orient": "none", "legendX": 2175, "legendY": 168, "padding": 0,
      "titleFontSize": 29, "titleFontWeight": "normal", "titleColor": "#000000", "titlePadding": 12,
      "labelFontSize": 23.5, "labelColor": "#000000", "labelOffset": 0, "labelLimit": 400,
      "symbolType": "stroke", "symbolSize": 1521, "symbolStrokeWidth": 12, "symbolOpacity": 1,
      "rowPadding": 0,
      "encode": {
        "entries": {"update": {"fill": {"value": {"gradient": "linear", "x1": 0, "y1": 0, "x2": 1, "y2": 0,
          "stops": [{"offset": 0, "color": "#F2F2F2"}, {"offset": 0.224, "color": "#F2F2F2"}, {"offset": 0.2241, "color": "#FFFFFF"}, {"offset": 1, "color": "#FFFFFF"}]}}}},
        "symbols": {"update": {"x": {"value": 23.5}, "y": {"value": 24.5}}},
        "labels": {"update": {"x": {"value": 65}, "y": {"value": 24.5}, "baseline": {"value": "middle"}}}
      }
    }},
  "detail": {"field": "s", "type": "nominal"}
},
"layer": [
  {"transform": [{"filter": "datum.c !== 'Italy'"}],
   "mark": {"type": "line", "strokeWidth": 3.8, "clip": true, "strokeJoin": "round"}},
  {"transform": [{"filter": "datum.c === 'Italy'"}],
   "mark": {"type": "line", "strokeWidth": 8, "clip": true, "strokeJoin": "round"}}
]
}
